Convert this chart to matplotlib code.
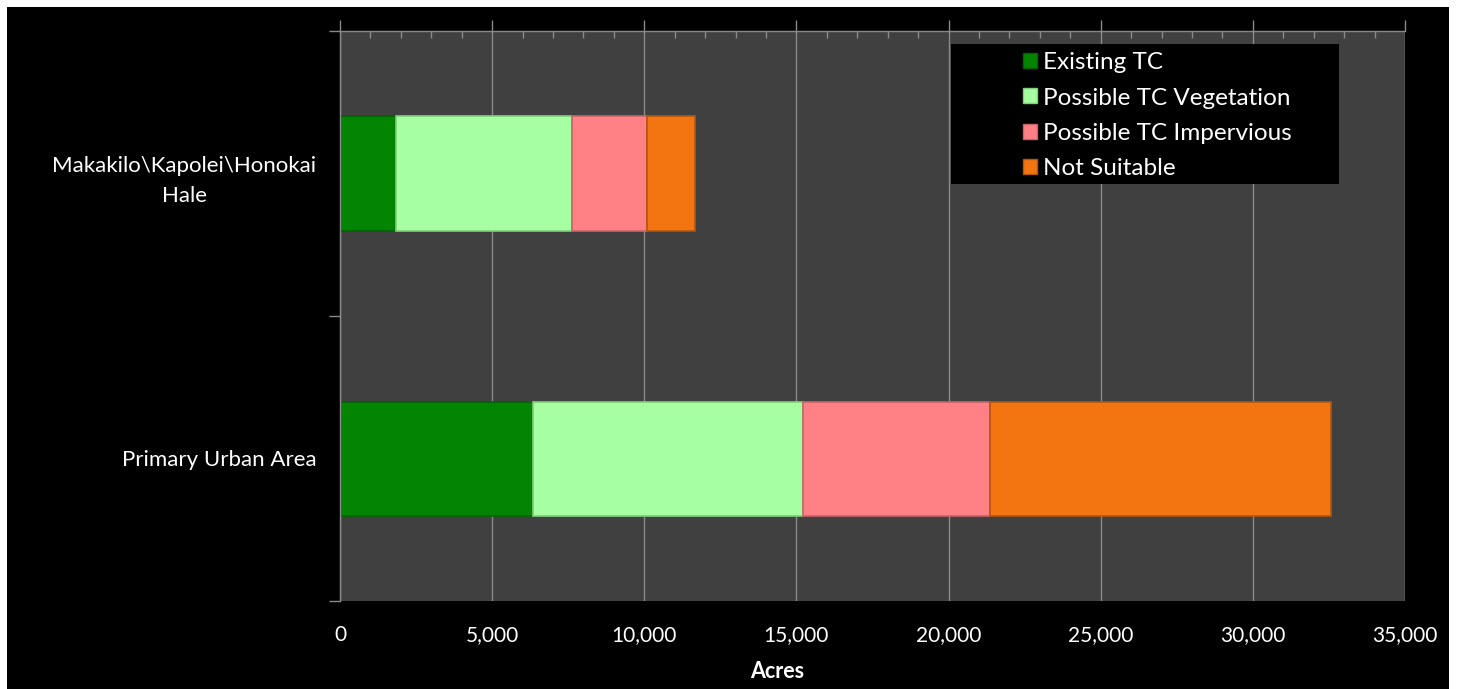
import matplotlib.pyplot as plt
import matplotlib.patches as mpatches
from matplotlib.ticker import MultipleLocator, FuncFormatter, FixedLocator

# data (acres)
regiones = ["Primary Urban Area", "Makakilo\\Kapolei\\Honokai\nHale"]
series = ["Existing TC", "Possible TC Vegetation", "Possible TC Impervious", "Not Suitable"]
existing_tc = [6350, 1830]
possible_veg = [8870, 5800]
possible_imp = [6140, 2445]
not_suitable = [11210, 1590]

colores = ["#038503", "#a6ffa0", "#ff8085", "#f27511"]
bordes = ["#026402", "#7fcf7a", "#c86468", "#b4560c"]

W, H = 1458, 689
plt.rcParams['font.family'] = ['Lato', 'DejaVu Sans']

fig = plt.figure(figsize=(W / 100, H / 100), dpi=100, facecolor="white")
# black chart area with white margins
fig.patches.append(mpatches.Rectangle((7 / W, 0), 1442 / W, 682 / H,
                                      transform=fig.transFigure, facecolor="black",
                                      edgecolor="none", zorder=-10))

ax = fig.add_axes([340 / W, 1 - 601 / H, (1405 - 340) / W, (601 - 31) / H])
ax.set_zorder(1)
ax.set_facecolor("#404040")

y = list(range(len(regiones)))
izq = [0] * len(regiones)
for datos, nombre, c, b in zip([existing_tc, possible_veg, possible_imp, not_suitable],
                               series, colores, bordes):
    ax.barh(y, datos, left=izq, height=0.4, color=c, edgecolor=b, linewidth=1.2,
            label=nombre, zorder=2)
    izq = [a + d for a, d in zip(izq, datos)]

ax.set_xlim(0, 35000)
ax.set_ylim(-0.5, 1.5)

gris = "#8a8a8a"
ax.xaxis.set_major_locator(MultipleLocator(5000))
ax.xaxis.set_minor_locator(MultipleLocator(1000))
ax.xaxis.set_major_formatter(FuncFormatter(lambda v, p: f"{int(v):,}"))
ax.grid(axis="x", which="major", color=gris, linewidth=1, zorder=1)
ax.set_axisbelow(True)

ax.tick_params(axis="x", which="major", top=True, bottom=False, direction="out",
               length=8, color=gris, width=1, labelsize=15, labelcolor="white", pad=9)
ax.tick_params(axis="x", which="minor", top=True, bottom=False, direction="in",
               length=5, color=gris, width=1)

ax.set_yticks(y)
ax.set_yticklabels(regiones, ha="right", multialignment="center", linespacing=1.65)
ax.yaxis.set_minor_locator(FixedLocator([-0.5, 0.5, 1.5]))
ax.tick_params(axis="y", which="major", length=0, labelsize=16, labelcolor="white", pad=17)
ax.tick_params(axis="y", which="minor", length=8, color=gris, width=1, direction="out")

for s in ["bottom", "right"]:
    ax.spines[s].set_visible(False)
for s in ["top", "left"]:
    ax.spines[s].set_color(gris)
    ax.spines[s].set_linewidth(1)

fig.text(777 / W, 1 - 671 / H, "Acres", color="white", fontsize=15.5,
         fontweight="bold", ha="center", va="center")

# legend box
ax.add_patch(mpatches.Rectangle((951 / W, 1 - 184 / H), (1339 - 951) / W, 140 / H,
                                transform=fig.transFigure, facecolor="black",
                                edgecolor="none", zorder=3))
manijas = [mpatches.Patch(facecolor=c, edgecolor=b) for c, b in zip(colores, bordes)]
leg = ax.legend(manijas, series, loc="upper left",
                bbox_to_anchor=(1004 / W, 1 - 33 / H), bbox_transform=fig.transFigure,
                frameon=False, fontsize=17.5, labelcolor="white", handlelength=0.57,
                handleheight=0.57, handletextpad=0.25, labelspacing=0.58, borderpad=0.3)
leg.set_zorder(4)

fig.savefig("out.png", dpi=100, facecolor="white")
